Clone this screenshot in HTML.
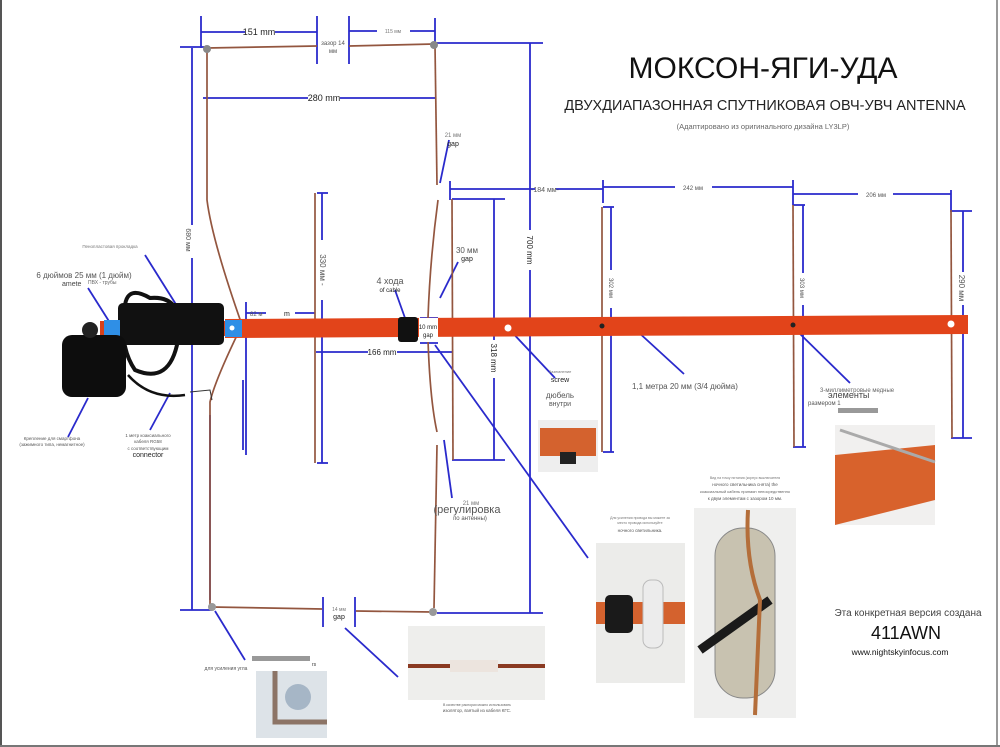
<!DOCTYPE html>
<html><head><meta charset="utf-8"><style>
html,body{margin:0;padding:0;background:#fff}
svg{display:block}
text{font-family:"Liberation Sans","DejaVu Sans",sans-serif}
</style></head><body>
<svg width="1000" height="747" viewBox="0 0 1000 747" xmlns="http://www.w3.org/2000/svg">
<rect width="1000" height="747" fill="#fff"/>
<line x1="1" y1="0" x2="1" y2="747" stroke="#555" stroke-width="2"/>
<line x1="997" y1="0" x2="997" y2="747" stroke="#999" stroke-width="2"/>
<line x1="0" y1="746" x2="1000" y2="746" stroke="#777" stroke-width="2"/>

<text x="763" y="78" font-size="30" text-anchor="middle" fill="#111">МОКСОН-ЯГИ-УДА</text>
<text x="765" y="110" font-size="14.5" text-anchor="middle" fill="#222">ДВУХДИАПАЗОННАЯ СПУТНИКОВАЯ ОВЧ-УВЧ ANTENNA</text>
<text x="763" y="129" font-size="7.5" text-anchor="middle" fill="#666">(Адаптировано из оригинального дизайна LY3LP)</text>

<g stroke="#2a2acc" stroke-width="1.8" fill="none">
<line x1="201" y1="16" x2="201" y2="48"/><line x1="317" y1="16" x2="317" y2="64"/>
<line x1="201" y1="32" x2="245" y2="32"/><line x1="275" y1="32" x2="317" y2="32"/>
<line x1="349" y1="16" x2="349" y2="64"/><line x1="435" y1="18" x2="435" y2="45"/>
<line x1="349" y1="31" x2="377" y2="31"/><line x1="410" y1="31" x2="435" y2="31"/>
<line x1="180" y1="47" x2="205" y2="47"/>
<line x1="435" y1="43" x2="543" y2="43"/>
<line x1="203" y1="98" x2="308" y2="98"/><line x1="340" y1="98" x2="436" y2="98"/>
<line x1="192" y1="48" x2="192" y2="225"/><line x1="192" y1="258" x2="192" y2="610"/>
<line x1="180" y1="610" x2="212" y2="610"/>
<line x1="530" y1="43" x2="530" y2="230"/><line x1="530" y1="270" x2="530" y2="613"/>
<line x1="437" y1="613" x2="543" y2="613"/>
<line x1="323" y1="597" x2="323" y2="627"/><line x1="355" y1="597" x2="355" y2="627"/>
<line x1="450" y1="189" x2="535" y2="189"/><line x1="556" y1="189" x2="603" y2="189"/>
<line x1="450" y1="181" x2="450" y2="200"/>
<line x1="603" y1="180" x2="603" y2="203"/>
<line x1="603" y1="187" x2="675" y2="187"/><line x1="712" y1="187" x2="793" y2="187"/>
<line x1="793" y1="180" x2="793" y2="205"/>
<line x1="793" y1="194" x2="858" y2="194"/><line x1="893" y1="194" x2="951" y2="194"/>
<line x1="951" y1="190" x2="951" y2="212"/>
<line x1="317" y1="193" x2="328" y2="193"/><line x1="322" y1="193" x2="322" y2="240"/><line x1="322" y1="300" x2="322" y2="463"/><line x1="317" y1="463" x2="328" y2="463"/>
<line x1="452" y1="199" x2="505" y2="199"/><line x1="494" y1="199" x2="494" y2="340"/><line x1="494" y1="378" x2="494" y2="460"/><line x1="452" y1="460" x2="505" y2="460"/>
<line x1="603" y1="207" x2="614" y2="207"/><line x1="611" y1="207" x2="611" y2="270"/><line x1="611" y1="308" x2="611" y2="452"/><line x1="603" y1="452" x2="614" y2="452"/>
<line x1="793" y1="205" x2="805" y2="205"/><line x1="803" y1="205" x2="803" y2="273"/><line x1="803" y1="305" x2="803" y2="447"/><line x1="793" y1="447" x2="806" y2="447"/>
<line x1="951" y1="211" x2="972" y2="211"/><line x1="963" y1="211" x2="963" y2="272"/><line x1="963" y1="305" x2="963" y2="438"/><line x1="951" y1="438" x2="972" y2="438"/>
<line x1="246" y1="302" x2="246" y2="455"/>
<line x1="246" y1="313" x2="266" y2="313"/><line x1="295" y1="313" x2="315" y2="313"/>
<line x1="316" y1="352" x2="368" y2="352"/><line x1="397" y1="352" x2="452" y2="352"/>
<line x1="210" y1="415" x2="210" y2="600"/>
<line x1="243" y1="380" x2="243" y2="450"/>
<line x1="420" y1="318" x2="438" y2="318"/><line x1="420" y1="343" x2="438" y2="343"/>
<line x1="395" y1="290" x2="405" y2="318"/>
<line x1="458" y1="262" x2="440" y2="298"/>
<line x1="449" y1="140" x2="440" y2="183"/>
<line x1="435" y1="345" x2="588" y2="558"/>
<line x1="508" y1="328" x2="555" y2="378"/>
<line x1="636" y1="330" x2="684" y2="374"/>
<line x1="793" y1="327" x2="850" y2="383"/>
<line x1="444" y1="440" x2="452" y2="498"/>
<line x1="215" y1="611" x2="245" y2="660"/>
<line x1="345" y1="628" x2="398" y2="677"/>
<line x1="88" y1="288" x2="112" y2="326"/>
<line x1="145" y1="255" x2="177" y2="306"/>
<line x1="88" y1="398" x2="68" y2="437"/>
<line x1="170" y1="393" x2="150" y2="430"/>
</g>

<g stroke="#93563f" stroke-width="1.7" fill="none">
<path d="M207 48 L317 46"/><path d="M349 46 L434 44"/>
<path d="M207 48 L207 200 Q212 240 242 325 Q215 380 210 402 L210 606"/>
<path d="M212 607 L322 609"/><path d="M356 611 L432 612"/>
<path d="M435 45 L437 185"/><path d="M438 200 Q430 260 428 318"/><path d="M428 340 Q430 400 437 432"/><path d="M437 445 L434 608"/>
<path d="M315 193 L315 463"/>
<path d="M452 199 L453 460"/>
<path d="M602 207 L602 452"/>
<path d="M793 205 L794 447"/>
<path d="M951 210 L952 438"/>
</g>
<circle cx="207" cy="49" r="4" fill="#888"/><circle cx="434" cy="45" r="4" fill="#888"/>
<circle cx="212" cy="607" r="4" fill="#999"/><circle cx="433" cy="612" r="4" fill="#999"/>

<polygon points="225,319 968,315 968,334 225,338" fill="#e2441a"/>
<circle cx="508" cy="328" r="3.5" fill="#fff"/><circle cx="951" cy="324" r="3.5" fill="#fff"/>
<circle cx="602" cy="326" r="2.5" fill="#222"/><circle cx="793" cy="325" r="2.5" fill="#222"/>
<rect x="398" y="317" width="20" height="25" rx="3" fill="#111"/>
<rect x="419" y="318" width="19" height="24" fill="#fff"/>
<text x="428" y="329" font-size="6" text-anchor="middle" font-family="Liberation Serif" fill="#222">10 mm</text>
<text x="428" y="337" font-size="6" text-anchor="middle" font-family="Liberation Serif" fill="#222">gap</text>

<rect x="100" y="321" width="130" height="15" fill="#d5401a"/>
<path d="M125 305 Q128 285 150 298 Q185 295 178 340 Q170 385 135 370 Q118 345 125 305Z" fill="none" stroke="#111" stroke-width="4"/>
<rect x="118" y="303" width="106" height="42" rx="5" fill="#111"/>
<rect x="104" y="320" width="16" height="16" fill="#2f8fe6"/>
<rect x="225" y="320" width="17" height="17" fill="#2f8fe6"/>
<circle cx="232" cy="328" r="2.5" fill="#fff"/>
<rect x="62" y="335" width="64" height="62" rx="10" fill="#0d0d0d"/>
<circle cx="90" cy="330" r="8" fill="#222"/>
<path d="M128 375 Q150 400 185 395" stroke="#111" stroke-width="2.5" fill="none"/>
<path d="M190 392 L210 390 L212 400" stroke="#333" stroke-width="1" fill="none"/>

<rect x="538" y="420" width="60" height="52" fill="#eee"/>
<rect x="540" y="428" width="56" height="28" fill="#d4622e"/>
<rect x="560" y="452" width="16" height="12" fill="#222"/>
<rect x="835" y="425" width="100" height="100" fill="#f1f0ef"/>
<polygon points="835,455 935,445 935,500 835,525" fill="#d8622c"/>
<line x1="840" y1="430" x2="935" y2="462" stroke="#aaa" stroke-width="3"/>
<rect x="596" y="543" width="89" height="140" fill="#ececea"/>
<rect x="596" y="602" width="89" height="22" fill="#d4622e"/>
<rect x="605" y="595" width="28" height="38" rx="5" fill="#1a1a1a"/>
<rect x="643" y="580" width="20" height="68" rx="8" fill="#ececec" stroke="#bbb"/>
<rect x="694" y="508" width="102" height="210" fill="#efefee"/>
<rect x="715" y="528" width="60" height="170" rx="28" fill="#c8c2b0" stroke="#888"/>
<path d="M700 650 L770 600" stroke="#1a1a1a" stroke-width="9"/>
<path d="M748 510 Q745 560 760 600 L755 715" stroke="#b46e3a" stroke-width="4" fill="none"/>
<rect x="408" y="626" width="137" height="74" fill="#eeeeec"/>
<line x1="408" y1="666" x2="545" y2="666" stroke="#8a3a22" stroke-width="4"/>
<rect x="450" y="660" width="48" height="12" fill="#ece4de"/>
<rect x="256" y="671" width="71" height="67" fill="#dde3e8"/>
<path d="M275 671 L275 722 L327 722" stroke="#8c7466" stroke-width="5" fill="none"/>
<circle cx="298" cy="697" r="13" fill="#a6b6c6"/>

<g fill="#222">
<text x="259" y="35" font-size="9" text-anchor="middle" font-family="Liberation Serif">151 mm</text>
<text x="393" y="33" font-size="5" text-anchor="middle" fill="#777">115 мм</text>
<text x="333" y="45" font-size="6" text-anchor="middle" fill="#555">зазор 14</text>
<text x="333" y="53" font-size="6" text-anchor="middle" fill="#555">мм</text>
<text x="324" y="101" font-size="9" text-anchor="middle" font-family="Liberation Serif">280 mm</text>
<text x="453" y="137" font-size="6" text-anchor="middle" fill="#777">21 мм</text>
<text x="453" y="146" font-size="7" text-anchor="middle" font-family="Liberation Serif">gap</text>
<text x="545" y="192" font-size="7" text-anchor="middle" fill="#555">-184 мм-</text>
<text x="693" y="190" font-size="6" text-anchor="middle" fill="#555">242 мм</text>
<text x="876" y="197" font-size="6" text-anchor="middle" fill="#555">206 мм</text>
<text x="467" y="253" font-size="8" text-anchor="middle" fill="#555">30 мм</text>
<text x="467" y="261" font-size="7" text-anchor="middle" font-family="Liberation Serif">gap</text>
<text x="390" y="284" font-size="9" text-anchor="middle" fill="#555">4 хода</text>
<text x="390" y="292" font-size="6" text-anchor="middle" font-family="Liberation Serif">of cable</text>
<text x="250" y="316" font-size="6" fill="#555">82 м</text>
<text x="284" y="316" font-size="7" font-family="Liberation Serif">m</text>
<text x="382" y="355" font-size="8" text-anchor="middle" font-family="Liberation Serif">166 mm</text>
<text transform="translate(186,240) rotate(90)" font-size="7" fill="#555" text-anchor="middle">680 мм</text>
<text transform="translate(527,250) rotate(90)" font-size="8" text-anchor="middle" font-family="Liberation Serif">700 mm</text>
<text transform="translate(320,270) rotate(90)" font-size="8" text-anchor="middle" fill="#555">330 мм -</text>
<text transform="translate(491,358) rotate(90)" font-size="8" text-anchor="middle" font-family="Liberation Serif">318 mm</text>
<text transform="translate(609,288) rotate(90)" font-size="6" text-anchor="middle" fill="#555">302 мм</text>
<text transform="translate(800,288) rotate(90)" font-size="6" text-anchor="middle" fill="#555">303 мм</text>
<text transform="translate(959,288) rotate(90)" font-size="8" text-anchor="middle" fill="#555">290 мм</text>
<text x="560" y="373" font-size="4" text-anchor="middle" fill="#777">Заземление</text>
<text x="560" y="382" font-size="7" text-anchor="middle" font-family="Liberation Serif">screw</text>
<text x="560" y="398" font-size="8" text-anchor="middle" fill="#555">дюбель</text>
<text x="560" y="406" font-size="7" text-anchor="middle" fill="#555">внутри</text>
<text x="632" y="389" font-size="8" fill="#555">1,1 метра 20 мм (3/4 дюйма)</text>
<text x="820" y="392" font-size="6" fill="#666">3-миллиметровые медные</text>
<text x="828" y="398" font-size="9" fill="#444">элементы</text>
<text x="808" y="405" font-size="6" fill="#555">размером 1</text>
<rect x="838" y="408" width="40" height="5" fill="#999"/>
<text x="471" y="505" font-size="6" text-anchor="middle" fill="#777">21 мм</text>
<text x="467" y="513" font-size="11" text-anchor="middle" fill="#555">(регулировка</text>
<text x="470" y="520" font-size="6" text-anchor="middle" fill="#555">по антенны)</text>
<text x="339" y="611" font-size="5" text-anchor="middle" fill="#777">14 мм</text>
<text x="339" y="619" font-size="7" text-anchor="middle" font-family="Liberation Serif">gap</text>
<text x="110" y="248" font-size="4.5" text-anchor="middle" fill="#777">Пенопластовая прокладка</text>
<text x="84" y="278" font-size="8" text-anchor="middle" fill="#555">6 дюймов 25 мм (1 дюйм)</text>
<text x="62" y="286" font-size="7" fill="#444" font-family="Liberation Serif">amete</text>
<text x="88" y="284" font-size="5" fill="#666">ПВХ - трубы</text>
<text x="52" y="440" font-size="4.5" text-anchor="middle" fill="#555">Крепление для смартфона</text>
<text x="52" y="446" font-size="4.5" text-anchor="middle" fill="#555">(зажимного типа, немагнитное)</text>
<text x="148" y="437" font-size="4.5" text-anchor="middle" fill="#555">1 метр коаксиального</text>
<text x="148" y="443" font-size="4.5" text-anchor="middle" fill="#555">кабеля RG58</text>
<text x="148" y="450" font-size="4.5" text-anchor="middle" fill="#555">с соответствующим</text>
<text x="148" y="457" font-size="7" text-anchor="middle" font-family="Liberation Serif">connector</text>
<text x="226" y="670" font-size="5" text-anchor="middle" fill="#555">для усиления угла</text>
<rect x="252" y="656" width="58" height="5" fill="#999"/>
<text x="312" y="666" font-size="5" fill="#333">rs</text>
<text x="477" y="706" font-size="3.5" text-anchor="middle" fill="#666">В качестве распорки можно использовать</text>
<text x="477" y="712" font-size="4.5" text-anchor="middle" fill="#555">изолятор, взятый из кабеля КГС.</text>
<text x="640" y="519" font-size="3.5" text-anchor="middle" fill="#777">Для усиления провода вы можете за</text>
<text x="640" y="524" font-size="3.5" text-anchor="middle" fill="#777">место провода используйте</text>
<text x="640" y="532" font-size="4.5" text-anchor="middle" fill="#555">ночного светильника.</text>
<text x="745" y="479" font-size="3.5" text-anchor="middle" fill="#777">Вид на точку питания (корпус выключателя</text>
<text x="745" y="486" font-size="4.5" text-anchor="middle" fill="#555">ночного светильника снята) the</text>
<text x="745" y="493" font-size="4" text-anchor="middle" fill="#666">коаксиальный кабель припаян непосредственно</text>
<text x="745" y="500" font-size="4.5" text-anchor="middle" fill="#555">к двум элементам с зазором 10 мм.</text>
<text x="908" y="616" font-size="10" text-anchor="middle" fill="#444">Эта конкретная версия создана</text>
<text x="906" y="639" font-size="18" text-anchor="middle" fill="#111">411AWN</text>
<text x="900" y="655" font-size="8.5" text-anchor="middle" font-family="Liberation Serif" fill="#111">www.nightskyinfocus.com</text>
</g>
</svg>
</body></html>
